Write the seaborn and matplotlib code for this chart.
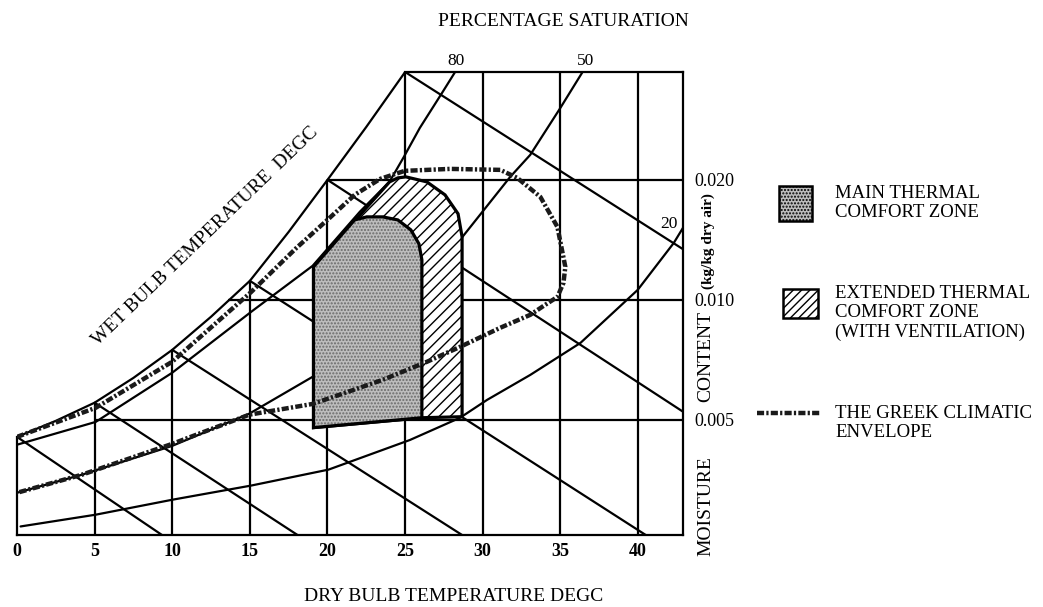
import numpy as np
import pandas as pd
import matplotlib
matplotlib.use("Agg")
import matplotlib.pyplot as plt
import seaborn as sns
from matplotlib.patches import Patch, Rectangle
from matplotlib.lines import Line2D
from matplotlib.legend_handler import HandlerPatch, HandlerLine2D
from matplotlib.ticker import FixedLocator, NullLocator

# ---------------- data ----------------
DRY_BULB_TICKS = [0, 5, 10, 15, 20, 25, 30, 35, 40]
MOISTURE_TICKS = [0.005, 0.010, 0.020]
MOISTURE_LABELS = ["0.005", "0.010", "0.020"]
MOIST_START_T = [5.0, 13.6, 20.0]
X_MAX = 42.9
Y_MIN = 0.00257
Y_MAX = 0.0373

# saturation (100 %) curve
SAT_T = [0, 2.5, 5, 7.5, 10, 12.5, 15, 17.5, 20, 22.5, 25]
SAT_W = [0.00453, 0.00497, 0.00552, 0.00637, 0.00749, 0.00907, 0.01116,
         0.01481, 0.0200, 0.02716, 0.0373]
# 80 % curve
RH80_T = [0, 5.07, 9.99, 15.16, 19.04, 22.08, 24.0, 24.92, 25.95, 27.38, 28.22]
RH80_W = [0.00433, 0.00494, 0.00656, 0.00938, 0.01217, 0.01663, 0.0198,
          0.02284, 0.02701, 0.03306, 0.0373]
# 50 % curve
RH50_T = [0, 4.17, 9.99, 14.96, 19.04, 24.0, 28.54, 31.77, 33.06, 35.0, 36.43]
RH50_W = [0.00328, 0.00364, 0.0043, 0.00518, 0.00641, 0.00944, 0.01414,
          0.02035, 0.02311, 0.03031, 0.0373]
# 20 % curve
RH20_T = [0.23, 5.07, 9.99, 15.09, 20.07, 25.31, 28.54, 30.28, 33.06, 36.3,
          39.98, 42.31, 42.9]
RH20_W = [0.0027, 0.00289, 0.00315, 0.00342, 0.00375, 0.00445, 0.00506,
          0.00561, 0.00648, 0.0078, 0.01059, 0.0139, 0.01516]
RH_LABELS = ["80", "50", "20"]
RH_LABEL_T = [28.3, 36.6, 42.0]
RH_LABEL_W = [0.0397, 0.0397, 0.0155]

# wet bulb lines (start on saturation curve, end on frame)
WB_T0 = [0, 5, 10, 15, 20, 25]
WB_W0 = [0.00453, 0.00552, 0.00749, 0.01116, 0.0200, 0.0373]
WB_T1 = [9.34, 18.07, 28.67, 40.5, 42.9, 42.9]
WB_W1 = [0.00257, 0.00257, 0.00257, 0.00257, 0.00524, 0.0134]

# Greek climatic envelope
ENV_T = [0, 5.07, 9.99, 15.09, 18.0, 20.14, 21.75, 23.4, 24.98, 27.9, 31.13,
         32.22, 33.71, 34.81, 35.32, 35.2, 34.81, 34.03, 33.06, 31.13, 28.54,
         26.4, 23.56, 20.78, 19.04, 14.96, 9.99, 4.17, 0]
ENV_W = [0.00453, 0.00536, 0.00699, 0.01047, 0.0135, 0.01606, 0.01834,
         0.02012, 0.02107, 0.02131, 0.02119, 0.02023, 0.01813, 0.01524,
         0.0121, 0.01103, 0.01017, 0.00972, 0.00917, 0.00851, 0.00762,
         0.00699, 0.0063, 0.00578, 0.00548, 0.00515, 0.00435, 0.00364, 0.00328]

# comfort zones
EXT_T = [19.1, 19.1, 24.0, 24.53, 25.05, 26.4, 27.57, 28.41, 28.67, 28.67, 26.08]
EXT_W = [0.00478, 0.0121, 0.01977, 0.02023, 0.02035, 0.01977, 0.01834,
         0.01644, 0.01439, 0.00509, 0.00506]
MAIN_T = [19.1, 19.1, 21.75, 22.53, 23.56, 24.53, 25.37, 25.89, 26.08, 26.08]
MAIN_W = [0.00478, 0.0121, 0.01587, 0.01615, 0.01615, 0.01587, 0.01498,
          0.01382, 0.0126, 0.00506]

LEGEND_LABELS = ["MAIN THERMAL\nCOMFORT ZONE",
                 "EXTENDED THERMAL\nCOMFORT ZONE\n(WITH VENTILATION)",
                 "THE GREEK CLIMATIC\nENVELOPE"]

# ---------------- style ----------------
sns.set_theme(style="white")
plt.rcParams["font.family"] = ["Liberation Serif", "DejaVu Serif"]
plt.rcParams["hatch.linewidth"] = 1.0
for key in ["text.color", "axes.labelcolor", "xtick.color", "ytick.color",
            "axes.edgecolor"]:
    plt.rcParams[key] = "black"

LW = 1.6
INK = "black"
ENV_DASH = (0, (1.6, 0.5, 0.5, 0.5))
GRAY = "#bdbdbd"

fig = plt.figure(figsize=(10.43, 6.07), dpi=100)
ax = fig.add_axes([17 / 1043, 72 / 607, 666 / 1043, 463 / 607])
ax.set_yscale("log")
ax.set_xlim(0, X_MAX)
ax.set_ylim(Y_MIN, Y_MAX)

# dry bulb verticals up to saturation / top
vt = DRY_BULB_TICKS[1:]
tops = [np.interp(t, SAT_T, SAT_W) if t <= SAT_T[-1] else Y_MAX for t in vt]
ax.vlines(vt, Y_MIN, tops, color=INK, lw=LW, zorder=1)
# moisture content horizontals
ax.hlines(MOISTURE_TICKS, MOIST_START_T, X_MAX, color=INK, lw=LW, zorder=1)
# wet bulb lines
for t0, w0, t1, w1 in zip(WB_T0, WB_W0, WB_T1, WB_W1):
    sns.lineplot(x=[t0, t1], y=[w0, w1], sort=False, estimator=None,
                 color=INK, lw=LW, ax=ax, zorder=1)
# RH curves
for tt, ww in [(SAT_T, SAT_W), (RH80_T, RH80_W), (RH50_T, RH50_W), (RH20_T, RH20_W)]:
    sns.lineplot(x=tt, y=ww, sort=False, estimator=None, color=INK, lw=LW,
                 ax=ax, zorder=1)

# zones
ax.fill(EXT_T, EXT_W, facecolor="white", edgecolor="none", zorder=2)
ax.fill(EXT_T, EXT_W, facecolor="none", edgecolor=INK, hatch="///", lw=0, zorder=2.1)
ax.fill(EXT_T, EXT_W, facecolor="none", edgecolor=INK, lw=2.3, zorder=3)
ax.fill(MAIN_T, MAIN_W, facecolor=GRAY, edgecolor="none", zorder=3.1)
ax.fill(MAIN_T, MAIN_W, facecolor="none", edgecolor="#6a6a6a", hatch=".....", lw=0, zorder=3.2)
ax.fill(MAIN_T, MAIN_W, facecolor="none", edgecolor=INK, lw=2.3, zorder=3.3)

# envelope
sns.lineplot(x=ENV_T, y=ENV_W, sort=False, estimator=None, color="#1a1a1a",
             lw=3.2, linestyle=ENV_DASH, ax=ax, zorder=4)

# frame
for s in ax.spines.values():
    s.set_linewidth(LW)
    s.set_color(INK)
ax.spines["top"].set_bounds(25, X_MAX)
ax.spines["left"].set_bounds(Y_MIN, SAT_W[0])

# ticks
ax.set_xticks(DRY_BULB_TICKS)
ax.set_xticklabels([str(t) for t in DRY_BULB_TICKS], fontweight="bold", fontsize=13)
ax.tick_params(axis="x", length=0, pad=6, colors=INK)
ax.yaxis.tick_right()
ax.yaxis.set_major_locator(FixedLocator(MOISTURE_TICKS))
ax.yaxis.set_minor_locator(NullLocator())
ax.set_yticklabels(MOISTURE_LABELS)
ax.tick_params(axis="y", which="both", length=0, pad=8, labelsize=13, colors=INK)

# texts
for lab, t, w in zip(RH_LABELS, RH_LABEL_T, RH_LABEL_W):
    ax.text(t, w, lab, ha="center", va="center", fontsize=12.5, clip_on=False)
fig.text(563 / 1043, 1 - 22 / 607, "PERCENTAGE SATURATION", ha="center",
         va="center", fontsize=14)
ax.set_xlabel("DRY BULB TEMPERATURE DEGC", fontsize=14)
ax.xaxis.set_label_coords((454 - 17) / 666, -0.115)
ax.text(0.282, 0.646, "WET BULB TEMPERATURE  DEGC", transform=ax.transAxes,
        rotation=44, ha="center", va="center", rotation_mode="anchor", fontsize=14)
ax.text(1.0345, 0.062, "MOISTURE", transform=ax.transAxes, rotation=90,
        ha="center", va="center", fontsize=14)
ax.text(1.0345, 0.385, "CONTENT", transform=ax.transAxes, rotation=90,
        ha="center", va="center", fontsize=14)
ax.text(1.0375, 0.635, "(kg/kg dry air)", transform=ax.transAxes, rotation=90,
        ha="center", va="center", fontsize=11, fontweight="bold")

# legend
PT = 72 / 100


def box_func(x0, w, h, dy):
    def f(legend, orig_handle, xdescent, ydescent, width, height, fontsize):
        return Rectangle((-xdescent + x0, -ydescent + height / 2 - h / 2 + dy), w, h)
    return f


class ShiftedLine(HandlerLine2D):
    def __init__(self, dy, **kw):
        super().__init__(**kw)
        self.dy = dy

    def create_artists(self, legend, orig_handle, xdescent, ydescent, width,
                       height, fontsize, trans):
        return super().create_artists(legend, orig_handle, xdescent,
                                      ydescent - 2 * self.dy, width, height,
                                      fontsize, trans)


h_main = Patch(facecolor=GRAY, edgecolor=INK, hatch=".....", lw=1.8)
h_ext = Patch(facecolor="white", edgecolor=INK, hatch="////", lw=1.8)
h_env = Line2D([], [], color="#1a1a1a", lw=3.2, linestyle=ENV_DASH)
leg = fig.legend(
    [h_main, h_ext, h_env], LEGEND_LABELS,
    loc="upper left", bbox_to_anchor=(757 / 1043, 1 - 185 / 607),
    frameon=False, fontsize=13.5, handlelength=3.36, handletextpad=0.8,
    labelspacing=3.4, borderpad=0, borderaxespad=0,
    handler_map={
        h_main: HandlerPatch(patch_func=box_func(22 * PT, 33 * PT, 35 * PT, 0)),
        h_ext: HandlerPatch(patch_func=box_func(26 * PT, 35 * PT, 29 * PT, 10 * PT)),
        h_env: ShiftedLine(10 * PT),
    })
for t in leg.get_texts():
    t.set_linespacing(1.18)

fig.savefig("out.png", dpi=100)
